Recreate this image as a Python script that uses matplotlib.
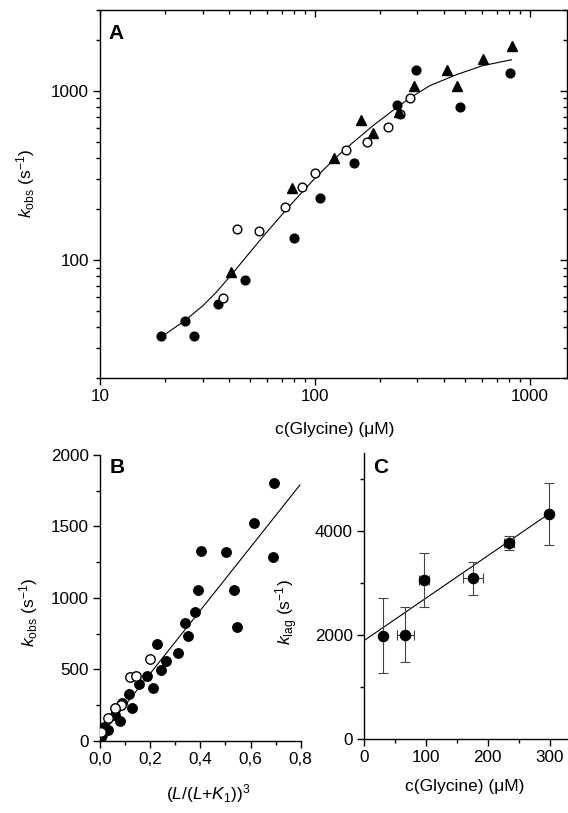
import matplotlib
matplotlib.use("Agg")
import matplotlib.pyplot as plt
from matplotlib.ticker import FixedLocator, FuncFormatter, NullFormatter

plt.rcParams["font.family"] = ["Liberation Sans", "DejaVu Sans"]
plt.rcParams["mathtext.fontset"] = "custom"
plt.rcParams["mathtext.rm"] = "Liberation Sans"
plt.rcParams["mathtext.it"] = "Liberation Sans:italic"

# ---- panel A: k_obs vs glycine (log-log) ----
a_fill_x = [19.2, 24.9, 27.4, 35.3, 47.3, 80.1, 106, 152, 242, 295, 472, 807]
a_fill_y = [35.2, 43.5, 35.2, 54.6, 76.2, 135, 231, 372, 826, 1318, 796, 1271]
a_open_x = [37.2, 43.3, 54.7, 72.3, 87, 99.7, 139, 174, 219, 250, 277]
a_open_y = [59.8, 152, 147, 205, 269, 325, 448, 494, 610, 731, 904]
a_tri_x = [40.7, 78, 123, 164, 187, 247, 290, 410, 456, 603, 822]
a_tri_y = [84.6, 266, 399, 673, 561, 744, 1060, 1318, 1060, 1546, 1828]
a_fit_x = [20.1, 24.8, 30.2, 34.9, 41.7, 49.9, 58.5, 72.3, 87.1, 100, 123,
           139, 187, 243, 277, 343, 456, 603, 822]
a_fit_y = [36.3, 43.6, 53.7, 64.6, 84.1, 110.9, 141.3, 192.8, 251.2, 303.4,
           393.6, 453.9, 623.7, 803.5, 905.7, 1071.5, 1244.5, 1406.0, 1524.0]

# ---- panel B: k_obs vs (L/(L+K1))^3 ----
b_fill_x = [0.694, 0.614, 0.404, 0.504, 0.690, 0.392, 0.536, 0.380, 0.340,
            0.350, 0.546, 0.226, 0.310, 0.262, 0.244, 0.186, 0.157, 0.213,
            0.117, 0.128, 0.089, 0.081, 0.060, 0.033, 0.017, 0.008, 0.003]
b_fill_y = [1806, 1527, 1331, 1319, 1284, 1054, 1054, 902, 827,
            734, 800, 680, 618, 556, 497, 455, 398, 370,
            329, 233, 263, 140, 185, 77, 96, 45, 25]
b_open_x = [0.199, 0.120, 0.145, 0.084, 0.060, 0.031, 0.004]
b_open_y = [571, 445, 457, 252, 228, 159, 62]
b_fit_x = [0.0, 0.797]
b_fit_y = [30, 1790]

# ---- panel C: k_lag vs glycine ----
c_x = [30, 67, 97.5, 176, 234, 299]
c_y = [1993, 2006, 3056, 3090, 3763, 4321]
c_xerr = [3, 13.5, 8, 15.6, 8, 3]
c_yerr = [715, 530, 520, 310, 135, 597]
c_fit_x = [0, 300]
c_fit_y = [1894, 4340]

TICK_FS = 12.3
LABEL_FS = 12.5
LETTER_FS = 15
KOBS = r"$k_{\mathrm{obs}}$ (s$^{-1}$)"
GLY = "c(Glycine) (\u03bcM)"


def style_ticks(ax):
    ax.tick_params(which="major", length=5, width=1, labelsize=TICK_FS, pad=3)
    ax.tick_params(which="minor", length=3, width=1)
    for sp in ax.spines.values():
        sp.set_linewidth(1)


fig = plt.figure(figsize=(5.68, 8.13), dpi=100)

# panel A
axA = fig.add_axes([0.1761, 0.5351, 0.8222, 0.4526])
axA.set_xscale("log")
axA.set_yscale("log")
axA.plot(a_fit_x, a_fit_y, color="black", lw=0.8, zorder=2)
axA.plot(a_fill_x, a_fill_y, "o", color="black", ms=6.3, zorder=3)
axA.plot(a_open_x, a_open_y, "o", mfc="white", mec="black", mew=1, ms=6.3, zorder=3)
axA.plot(a_tri_x, a_tri_y, "^", color="black", ms=6.8, zorder=3)
axA.set_xlim(10, 1490)
axA.set_ylim(20, 3000)
fmt = FuncFormatter(lambda v, p: f"{v:g}")
axA.xaxis.set_major_formatter(fmt)
axA.yaxis.set_major_formatter(fmt)
axA.xaxis.set_minor_formatter(NullFormatter())
axA.yaxis.set_minor_formatter(NullFormatter())
style_ticks(axA)
axA.tick_params(which="both", top=True, right=True, direction="out")
# mirrored ticks point inward
for t in axA.xaxis.get_major_ticks() + axA.xaxis.get_minor_ticks():
    t.tick2line.set_marker(3)
for t in axA.yaxis.get_major_ticks() + axA.yaxis.get_minor_ticks():
    t.tick2line.set_marker(0)
axA.set_xlabel(GLY, fontsize=LABEL_FS)
axA.set_ylabel(KOBS, fontsize=LABEL_FS)
axA.xaxis.set_label_coords(0.503, -0.12)
axA.yaxis.set_label_coords(-0.135, 0.53)
axA.text(0.019, 0.937, "A", transform=axA.transAxes, fontsize=LETTER_FS,
         fontweight="bold", ha="left", va="center")

# panel B
axB = fig.add_axes([0.1761, 0.0886, 0.3533, 0.3518])
axB.plot(b_fit_x, b_fit_y, color="black", lw=0.8, zorder=2)
axB.plot(b_fill_x, b_fill_y, "o", color="black", ms=6.8, zorder=3)
axB.plot(b_open_x, b_open_y, "o", mfc="white", mec="black", mew=1, ms=6.8, zorder=4)
axB.set_xlim(0, 0.8)
axB.set_ylim(0, 2000)
axB.spines["top"].set_visible(False)
axB.spines["right"].set_visible(False)
axB.xaxis.set_major_locator(FixedLocator([0, 0.2, 0.4, 0.6, 0.8]))
axB.xaxis.set_minor_locator(FixedLocator([0.1, 0.3, 0.5, 0.7]))
axB.yaxis.set_major_locator(FixedLocator([0, 500, 1000, 1500, 2000]))
axB.yaxis.set_minor_locator(FixedLocator([250, 750, 1250, 1750]))
axB.xaxis.set_major_formatter(FuncFormatter(lambda v, p: f"{v:.1f}".replace(".", ",")))
style_ticks(axB)
axB.set_xlabel(r"$(L/(L{+}K_1))^3$", fontsize=LABEL_FS)
axB.set_ylabel(KOBS, fontsize=LABEL_FS)
axB.xaxis.set_label_coords(0.54, -0.145)
axB.yaxis.set_label_coords(-0.30, 0.449)
axB.text(0.05, 0.955, "B", transform=axB.transAxes, fontsize=LETTER_FS,
         fontweight="bold", ha="left", va="center")

# panel C
axC = fig.add_axes([0.6408, 0.0907, 0.3574, 0.3522])
axC.plot(c_fit_x, c_fit_y, color="black", lw=0.8, zorder=2)
axC.errorbar(c_x, c_y, xerr=c_xerr, yerr=c_yerr, fmt="o", color="black",
             ecolor="#444444", elinewidth=0.8, capsize=3.5, capthick=0.8,
             ms=7.3, zorder=3)
axC.set_xlim(0, 328)
axC.set_ylim(0, 5500)
axC.spines["top"].set_visible(False)
axC.spines["right"].set_visible(False)
axC.xaxis.set_major_locator(FixedLocator([0, 100, 200, 300]))
axC.xaxis.set_minor_locator(FixedLocator([50, 150, 250]))
axC.yaxis.set_major_locator(FixedLocator([0, 2000, 4000]))
axC.yaxis.set_minor_locator(FixedLocator([1000, 3000, 5000]))
style_ticks(axC)
axC.set_xlabel(GLY, fontsize=LABEL_FS)
axC.set_ylabel(r"$k_{\mathrm{lag}}$ (s$^{-1}$)", fontsize=LABEL_FS)
axC.xaxis.set_label_coords(0.497, -0.14)
axC.yaxis.set_label_coords(-0.315, 0.445)
axC.text(0.043, 0.949, "C", transform=axC.transAxes, fontsize=LETTER_FS,
         fontweight="bold", ha="left", va="center")

fig.savefig("out.png", dpi=100)
